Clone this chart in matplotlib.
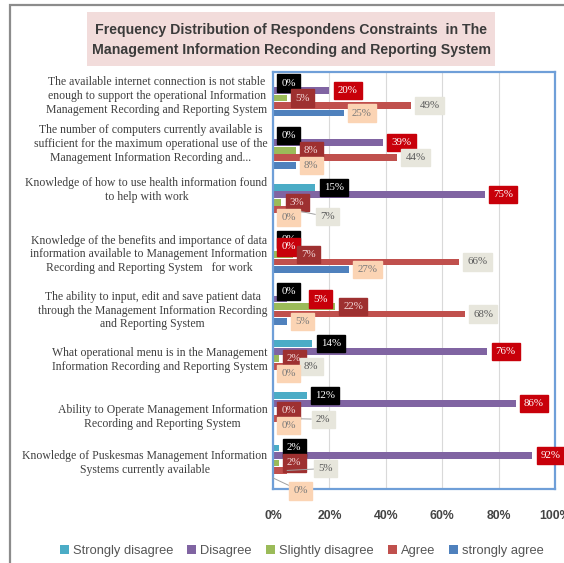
import matplotlib
matplotlib.use("Agg")
import matplotlib.pyplot as plt
from matplotlib.patches import Rectangle
import numpy as np

categories = [
    "The available internet connection is not stable\nenough to support the operational Information\nManagement Recording and Reporting System",
    "The number of computers currently available is\nsufficient for the maximum operational use of the\nManagement Information Recording and...",
    "Knowledge of how to use health information found\nto help with work",
    "Knowledge of the benefits and importance of data\ninformation available to Management Information\nRecording and Reporting System   for work",
    "The ability to input, edit and save patient data\nthrough the Management Information Recording\nand Reporting System",
    "What operational menu is in the Management\nInformation Recording and Reporting System",
    "Ability to Operate Management Information\nRecording and Reporting System",
    "Knowledge of Puskesmas Management Information\nSystems currently available",
]
series_names = ["Strongly disagree", "Disagree", "Slightly disagree", "Agree", "strongly agree"]
strongly_disagree = [0, 0, 15, 0, 0, 14, 12, 2]
disagree = [20, 39, 75, 0, 5, 76, 86, 92]
slightly_disagree = [5, 8, 3, 7, 22, 2, 0, 2]
agree = [49, 44, 7, 66, 68, 8, 2, 5]
strongly_agree = [25, 8, 0, 27, 5, 0, 0, 0]
x_ticks = [0, 20, 40, 60, 80, 100]

series_values = [strongly_disagree, disagree, slightly_disagree, agree, strongly_agree]
bar_colors = ["#4bacc6", "#8064a2", "#9bbb59", "#c0504d", "#4f81bd"]
# data label boxes: (face, text)
label_style = [("#000000", "#ffffff"), ("#c8000a", "#ffffff"), ("#9e3030", "#f3d9d9"),
               ("#e7e6dc", "#5a5a5a"), ("#fbd4b4", "#7a7a7a")]
# dragged labels in the original: (category, series) -> (dx px, dy px, leader)
nudges = {(2, 3): (19, 7, True), (4, 1): (18, 0, False), (6, 3): (29, 1, True),
          (7, 3): (23, -2, True), (7, 4): (12, 13, True)}
label_shift = [-2, -6, -12, 0, 4, 1, 6, 0]

serif = ["Liberation Serif", "DejaVu Serif"]
sans = ["Liberation Sans", "DejaVu Sans"]

fig = plt.figure(figsize=(5.64, 5.63), dpi=100, facecolor="white")

# outer chart border (cropped on the right / bottom)
fig.patches.append(Rectangle((10 / 564, -0.05), 1.1, 1 - 5 / 563 + 0.05,
                             transform=fig.transFigure, fill=False,
                             ec="#8c8c8c", lw=1.6))
# title block
fig.patches.append(Rectangle((87 / 564, 1 - 66 / 563), 408 / 564, 54 / 563,
                             transform=fig.transFigure, fc="#f2dcdb", ec="none"))
fig.text(291 / 564, 1 - 40 / 563,
         "Frequency Distribution of Respondens Constraints  in The\n"
         "Management Information Reconding and Reporting System",
         ha="center", va="center", fontsize=10.2, fontweight="bold",
         family=sans, color="#3b3b3b", linespacing=1.55)

ax = fig.add_axes([273 / 564, 1 - 489 / 563, 282 / 564, 417 / 563])
n = len(categories)
y = np.arange(n)
pitch, height = 0.144, 0.13
for j, vals in enumerate(series_values):
    ax.barh(y + (j - 2) * pitch, vals, height=height, color=bar_colors[j],
            label=series_names[j], zorder=2)

ax.set_xlim(0, 100)
ax.set_ylim(n - 0.5, -0.5)
ax.set_xticks(x_ticks)
ax.set_xticklabels([f"{t}%" for t in x_ticks], fontsize=8.8, fontweight="bold",
                   color="#444444", family=sans)
ax.tick_params(axis="x", length=0, pad=15)
ax.set_yticks([])
ax.grid(axis="x", color="#d9d9d9", lw=0.8, zorder=0)
for sp in ax.spines.values():
    sp.set_color("#6f9fd8")
    sp.set_linewidth(1.6)

for i, cat in enumerate(categories):
    ax.annotate(cat, xy=(0, i), xycoords=("axes fraction", "data"),
                xytext=(-4, -label_shift[i] * 0.72), textcoords="offset points",
                ha="right", va="center", multialignment="center",
                fontsize=8.5, family=serif, color="#3f3f3f", linespacing=1.2)

for j, vals in enumerate(series_values):
    fc, tc = label_style[j]
    for i, v in enumerate(vals):
        dx, dy, leader = nudges.get((i, j), (0, 0, False))
        ax.annotate(f"{v}%", xy=(v, y[i] + (j - 2) * pitch),
                    xytext=(6 + dx * 0.72, -dy * 0.72), textcoords="offset points",
                    ha="left", va="center", fontsize=7.8, family=serif, color=tc,
                    bbox=dict(boxstyle="square,pad=0.38", fc=fc, ec=fc),
                    arrowprops=dict(arrowstyle="-", color="#a0a0a0", lw=0.7,
                                    shrinkA=0, shrinkB=0) if leader else None,
                    annotation_clip=False, zorder=5)

fig.legend(loc="center", bbox_to_anchor=(0.535, 1 - 551 / 563), ncol=5,
           frameon=False, handlelength=0.7, handleheight=0.7, handletextpad=0.3,
           columnspacing=1.1, prop={"family": sans, "size": 9.3},
           labelcolor="#555555")

fig.savefig("out.png", dpi=100, facecolor="white")
